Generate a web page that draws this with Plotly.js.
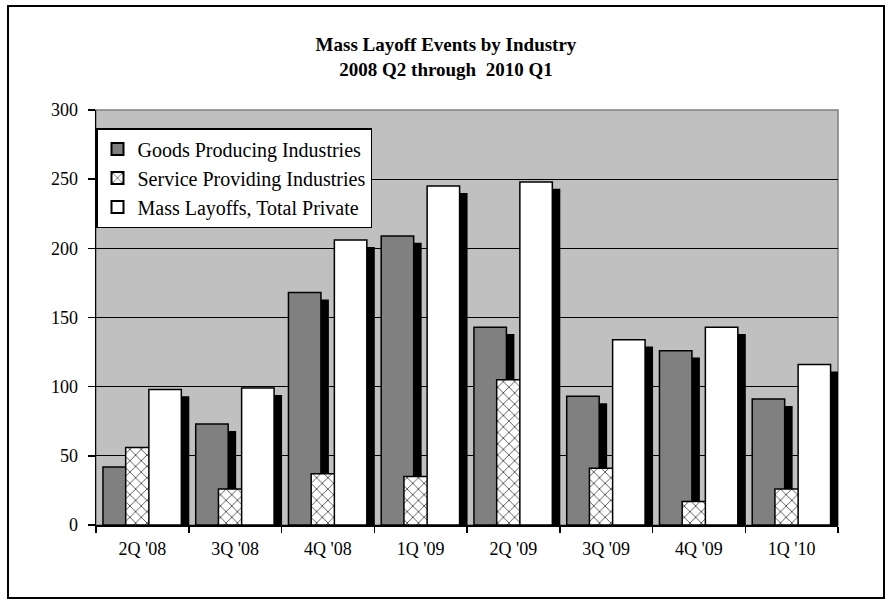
<!DOCTYPE html>
<html>
<head>
<meta charset="utf-8">
<script src="https://cdn.plot.ly/plotly-3.0.1.min.js"></script>
<style>html,body{margin:0;padding:0;background:#fff;}#chart{width:892px;height:606px;}</style>
</head>
<body>
<div id="chart"></div>
<script>
// ---- data ----
const quarters = ["2Q '08", "3Q '08", "4Q '08", "1Q '09", "2Q '09", "3Q '09", "4Q '09", "1Q '10"];
const goodsProducing = [42, 73, 168, 209, 143, 93, 126, 91];
const serviceProviding = [56, 26, 37, 35, 105, 41, 17, 26];
const totalPrivate = [98, 99, 206, 245, 248, 134, 143, 116];
const seriesNames = ["Goods Producing Industries", "Service Providing Industries", "Mass Layoffs, Total Private"];
const yTicks = [0, 50, 100, 150, 200, 250, 300];

// ---- styling / geometry ----
const W = 892, H = 606;
const M = {l: 96, r: 54, t: 110, b: 81};
const FONT = "Liberation Serif, Times New Roman, serif";
const barW = 0.35;
const offsets = [-0.425, -0.18, 0.07];
const shadowDx = 0.086;
const depth = 5;

function shadow(vals, off) {
  return {
    type: 'bar', x: quarters, y: vals, base: -depth,
    offset: off + shadowDx, width: barW,
    marker: {color: '#000', line: {width: 0}},
    showlegend: false, hoverinfo: 'skip'
  };
}
function front(vals, off, name, marker, grp) {
  return {
    type: 'bar', x: quarters, y: vals, name: name,
    offset: off, width: barW, marker: marker, legendgroup: grp
  };
}

const traces = [
  shadow(goodsProducing, offsets[0]),
  front(goodsProducing, offsets[0], seriesNames[0], {color: '#808080', line: {color: '#000', width: 1.5}}, 'g1'),
  shadow(serviceProviding, offsets[1]),
  front(serviceProviding, offsets[1], seriesNames[1], {color: '#fff', line: {color: '#000', width: 1.5},
    pattern: {shape: 'x', size: 8, solidity: 0.22, fgcolor: '#555', bgcolor: '#fff', fillmode: 'replace'}}, 'g2'),
  shadow(totalPrivate, offsets[2]),
  front(totalPrivate, offsets[2], seriesNames[2], {color: '#fff', line: {color: '#000', width: 1.5}}, 'g3')
];

const pw = W - M.l - M.r, ph = H - M.t - M.b;
const px = v => (v - M.l) / pw;
const py = v => (H - M.b - v) / ph;

const layout = {
  width: W, height: H,
  margin: M,
  paper_bgcolor: '#fff',
  plot_bgcolor: '#c0c0c0',
  barmode: 'overlay',
  font: {family: FONT, size: 18, color: '#000'},
  title: {
    text: "<b>Mass Layoff Events by Industry<br>2008 Q2 through  2010 Q1</b>",
    font: {family: FONT, size: 19, color: '#000'},
    x: 0.5, xref: 'container', xanchor: 'center',
    y: 1 - 51 / H, yref: 'container', yanchor: 'top'
  },
  xaxis: {
    type: 'category',
    tickson: 'boundaries', ticks: 'outside', ticklen: 6, tickcolor: '#000', tickwidth: 1.5,
    showline: true, linecolor: '#000', linewidth: 2,
    showgrid: false, zeroline: false,
    tickfont: {family: FONT, size: 18, color: '#000'},
    ticklabelstandoff: 6,
    range: [-0.5, 7.5], fixedrange: true
  },
  yaxis: {
    range: [0, 300], tickvals: yTicks, ticktext: yTicks.map(String),
    ticks: 'outside', ticklen: 7, tickcolor: '#000', tickwidth: 1.5,
    showline: true, linecolor: '#000', linewidth: 1.5,
    showgrid: true, gridcolor: '#000', gridwidth: 1,
    zeroline: false,
    tickfont: {family: FONT, size: 18, color: '#000'},
    ticklabelstandoff: 6,
    fixedrange: true
  },
  legend: {
    x: 0, xanchor: 'left', y: py(128), yanchor: 'top',
    bgcolor: '#fff', bordercolor: '#000', borderwidth: 1.5,
    font: {family: FONT, size: 20, color: '#000'},
    traceorder: 'grouped', tracegroupgap: 0,
    itemsizing: 'constant', itemwidth: 30
  },
  shapes: [
    {type: 'rect', xref: 'paper', yref: 'paper', x0: 0, x1: 1, y0: 0, y1: 1,
     line: {color: '#808080', width: 1.5}, layer: 'below'},
    {type: 'rect', xref: 'paper', yref: 'paper', x0: px(8), x1: px(884), y0: py(598), y1: py(6),
     line: {color: '#000', width: 2}, fillcolor: 'rgba(0,0,0,0)', layer: 'below'}
  ],
  showlegend: true
};

Plotly.newPlot('chart', traces, layout, {displayModeBar: false, staticPlot: true});
</script>
</body>
</html>
